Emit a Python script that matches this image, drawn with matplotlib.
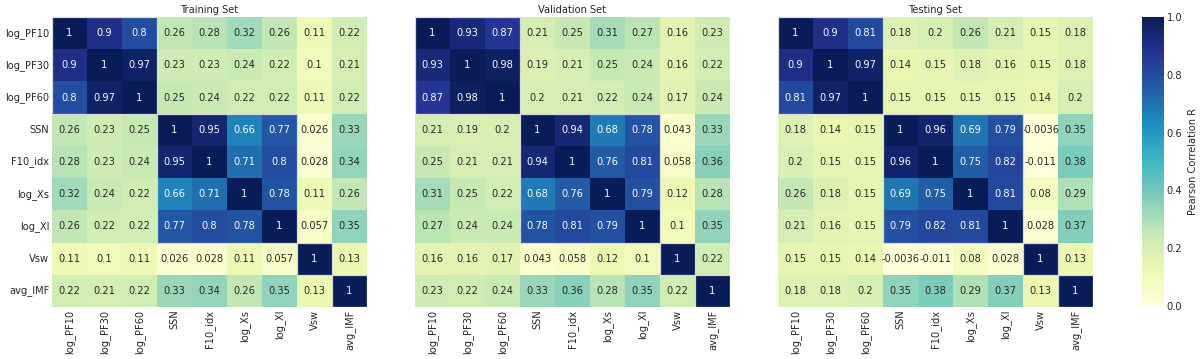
import numpy as np
import matplotlib
matplotlib.use("Agg")
import matplotlib.pyplot as plt
from matplotlib.patches import Rectangle
import seaborn as sns

labels = ["log_PF10", "log_PF30", "log_PF60", "SSN", "F10_idx", "log_Xs", "log_Xl", "Vsw", "avg_IMF"]

train_R = [
    [1, 0.9, 0.8, 0.26, 0.28, 0.32, 0.26, 0.11, 0.22],
    [0.9, 1, 0.97, 0.23, 0.23, 0.24, 0.22, 0.1, 0.21],
    [0.8, 0.97, 1, 0.25, 0.24, 0.22, 0.22, 0.11, 0.22],
    [0.26, 0.23, 0.25, 1, 0.95, 0.66, 0.77, 0.026, 0.33],
    [0.28, 0.23, 0.24, 0.95, 1, 0.71, 0.8, 0.028, 0.34],
    [0.32, 0.24, 0.22, 0.66, 0.71, 1, 0.78, 0.11, 0.26],
    [0.26, 0.22, 0.22, 0.77, 0.8, 0.78, 1, 0.057, 0.35],
    [0.11, 0.1, 0.11, 0.026, 0.028, 0.11, 0.057, 1, 0.13],
    [0.22, 0.21, 0.22, 0.33, 0.34, 0.26, 0.35, 0.13, 1],
]

valid_R = [
    [1, 0.93, 0.87, 0.21, 0.25, 0.31, 0.27, 0.16, 0.23],
    [0.93, 1, 0.98, 0.19, 0.21, 0.25, 0.24, 0.16, 0.22],
    [0.87, 0.98, 1, 0.2, 0.21, 0.22, 0.24, 0.17, 0.24],
    [0.21, 0.19, 0.2, 1, 0.94, 0.68, 0.78, 0.043, 0.33],
    [0.25, 0.21, 0.21, 0.94, 1, 0.76, 0.81, 0.058, 0.36],
    [0.31, 0.25, 0.22, 0.68, 0.76, 1, 0.79, 0.12, 0.28],
    [0.27, 0.24, 0.24, 0.78, 0.81, 0.79, 1, 0.1, 0.35],
    [0.16, 0.16, 0.17, 0.043, 0.058, 0.12, 0.1, 1, 0.22],
    [0.23, 0.22, 0.24, 0.33, 0.36, 0.28, 0.35, 0.22, 1],
]

test_R = [
    [1, 0.9, 0.81, 0.18, 0.2, 0.26, 0.21, 0.15, 0.18],
    [0.9, 1, 0.97, 0.14, 0.15, 0.18, 0.16, 0.15, 0.18],
    [0.81, 0.97, 1, 0.15, 0.15, 0.15, 0.15, 0.14, 0.2],
    [0.18, 0.14, 0.15, 1, 0.96, 0.69, 0.79, -0.0036, 0.35],
    [0.2, 0.15, 0.15, 0.96, 1, 0.75, 0.82, -0.011, 0.38],
    [0.26, 0.18, 0.15, 0.69, 0.75, 1, 0.81, 0.08, 0.29],
    [0.21, 0.16, 0.15, 0.79, 0.82, 0.81, 1, 0.028, 0.37],
    [0.15, 0.15, 0.14, -0.0036, -0.011, 0.08, 0.028, 1, 0.13],
    [0.18, 0.18, 0.2, 0.35, 0.38, 0.29, 0.37, 0.13, 1],
]

titles = ["Training Set", "Validation Set", "Testing Set"]
blocks = [(0, 3), (3, 4), (7, 1), (8, 1)]

sns.set_style("white")
plt.rcParams["font.family"] = ["DejaVu Sans"]
fs = 7.1

fig = plt.figure(figsize=(12, 3.59), dpi=100)
W, H = 1200, 359
def frac(x0, y0, x1, y1):
    return [x0 / W, (H - y1) / H, (x1 - x0) / W, (y1 - y0) / H]

lefts = [52, 415, 778]
axes = [fig.add_axes(frac(l, 17, l + 315, 307)) for l in lefts]
cax = fig.add_axes(frac(1142, 17, 1164, 306))

for i, (ax, data, title) in enumerate(zip(axes, [train_R, valid_R, test_R], titles)):
    sns.heatmap(np.array(data), ax=ax, cmap="YlGnBu", vmin=0, vmax=1,
                annot=True, fmt=".2g", annot_kws={"fontsize": fs},
                xticklabels=labels, yticklabels=labels if i == 0 else False,
                cbar=(i == 0), cbar_ax=cax if i == 0 else None,
                cbar_kws={"label": "Pearson Correlation R"} if i == 0 else None)
    ax.set_title(title, fontsize=fs, pad=3)
    ax.tick_params(axis="x", labelsize=fs, rotation=90, length=0, pad=2)
    ax.tick_params(axis="y", labelsize=fs, rotation=0, length=0, pad=2)
    for s, n in blocks:
        ax.add_patch(Rectangle((s, s), n, n, fill=False, edgecolor="#d8d8d8", lw=0.9, zorder=5))

cax.tick_params(labelsize=fs, length=0, pad=2)
cax.yaxis.label.set_size(fs)
cax.set_yticks([0, 0.2, 0.4, 0.6, 0.8, 1.0])
cax.set_yticklabels(["0.0", "0.2", "0.4", "0.6", "0.8", "1.0"])

fig.savefig("out.png", dpi=100)
